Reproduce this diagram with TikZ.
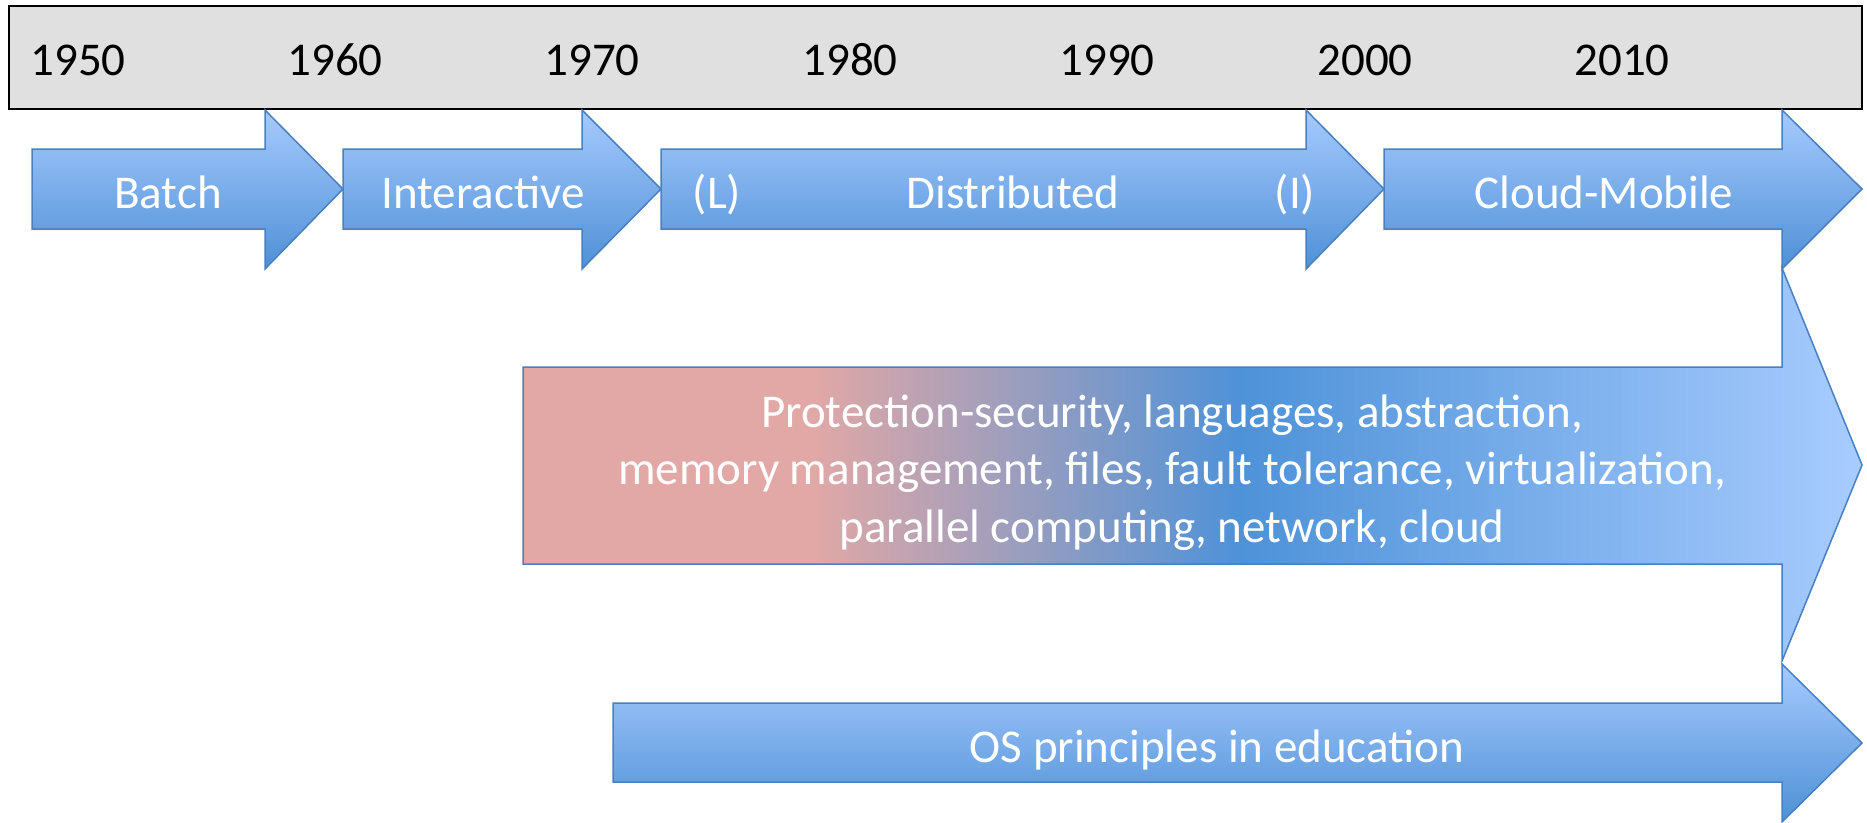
\documentclass[tikz,border=0pt]{standalone}
\usepackage{fontspec}
\setmainfont{Carlito}
\definecolor{barfill}{RGB}{224,224,224}
\definecolor{arrowtop}{RGB}{166,202,255}
\definecolor{arrowbot}{RGB}{78,144,214}
\definecolor{arrowedge}{RGB}{74,128,192}
\definecolor{rose}{RGB}{225,168,166}
\definecolor{deepblue}{RGB}{78,146,216}
\definecolor{paleblue}{RGB}{168,204,255}
% pink-to-blue band used by the long topics arrow
\pgfdeclarehorizontalshading{eraband}{100bp}{color(0bp)=(rose); color(25bp)=(rose); color(35.8bp)=(rose); color(51.8bp)=(deepblue); color(75bp)=(paleblue); color(100bp)=(paleblue)}
\tikzset{
  yearlabel/.style={anchor=base, text=black, inner sep=0pt, font=\fontsize{47}{57.5}\selectfont},
  eralabel/.style={anchor=base, text=white, inner sep=0pt, font=\fontsize{47}{57.5}\selectfont},
  blockarrow/.style={draw=arrowedge, line width=1.5pt, line join=miter, top color=arrowtop, bottom color=arrowbot},
  bandarrow/.style={draw=arrowedge, line width=1.5pt, line join=miter, shading=eraband},
  timebar/.style={draw=black, line width=2.5pt, fill=barfill}
}
% era arrow: body from x=#1 to head at x=#2, tip at x=#3
\newcommand\eraarrow[3]{%
  \draw[blockarrow] (#1,149) -- (#2,149) -- (#2,110) -- (#3,189) -- (#2,269) -- (#2,229) -- (#1,229) -- cycle;}
\begin{document}
\begin{tikzpicture}[x=1pt, y=-1pt]
\useasboundingbox (0,0) rectangle (1867,822);

% time axis
\draw[timebar] (9,6) rectangle (1862,109);
\node[yearlabel] (y1950) at (78,75) {1950};
\node[yearlabel] (y1960) at (335,75) {1960};
\node[yearlabel] (y1970) at (592,75) {1970};
\node[yearlabel] (y1980) at (850,75) {1980};
\node[yearlabel] (y1990) at (1107,75) {1990};
\node[yearlabel] (y2000) at (1365,75) {2000};
\node[yearlabel] (y2010) at (1622,75) {2010};

% long topics arrow
\draw[bandarrow] (523,367) -- (1782,367) -- (1782,268) -- (1862,465) -- (1782,661) -- (1782,564) -- (523,564) -- cycle;
% the base anchor of this three-line label sits on its last line
\node[eralabel, align=center] (topics) at (1172,542)
  {Protection-security, languages, abstraction,\\
   memory management, files, fault tolerance, virtualization,\\
   parallel computing, network, cloud};

% education arrow
\draw[blockarrow] (613,703) -- (1782,703) -- (1782,664) -- (1862,743) -- (1782,822) -- (1782,782) -- (613,782) -- cycle;
\node[eralabel] (edu) at (1217,762) {OS principles in education};

% era arrows
\eraarrow{32}{265}{343}
\eraarrow{343}{582}{661}
\eraarrow{661}{1306}{1384}
\eraarrow{1384}{1782}{1862}
\node[eralabel] (batch) at (168,208) {Batch};
\node[eralabel] (interactive) at (483,208) {Interactive};
\node[eralabel] (lmark) at (717,208) {(L)};
\node[eralabel] (distributed) at (1013,208) {Distributed};
\node[eralabel] (imark) at (1295,208) {(I)};
\node[eralabel] (cloud) at (1604,208) {Cloud-Mobile};
\end{tikzpicture}
\end{document}
